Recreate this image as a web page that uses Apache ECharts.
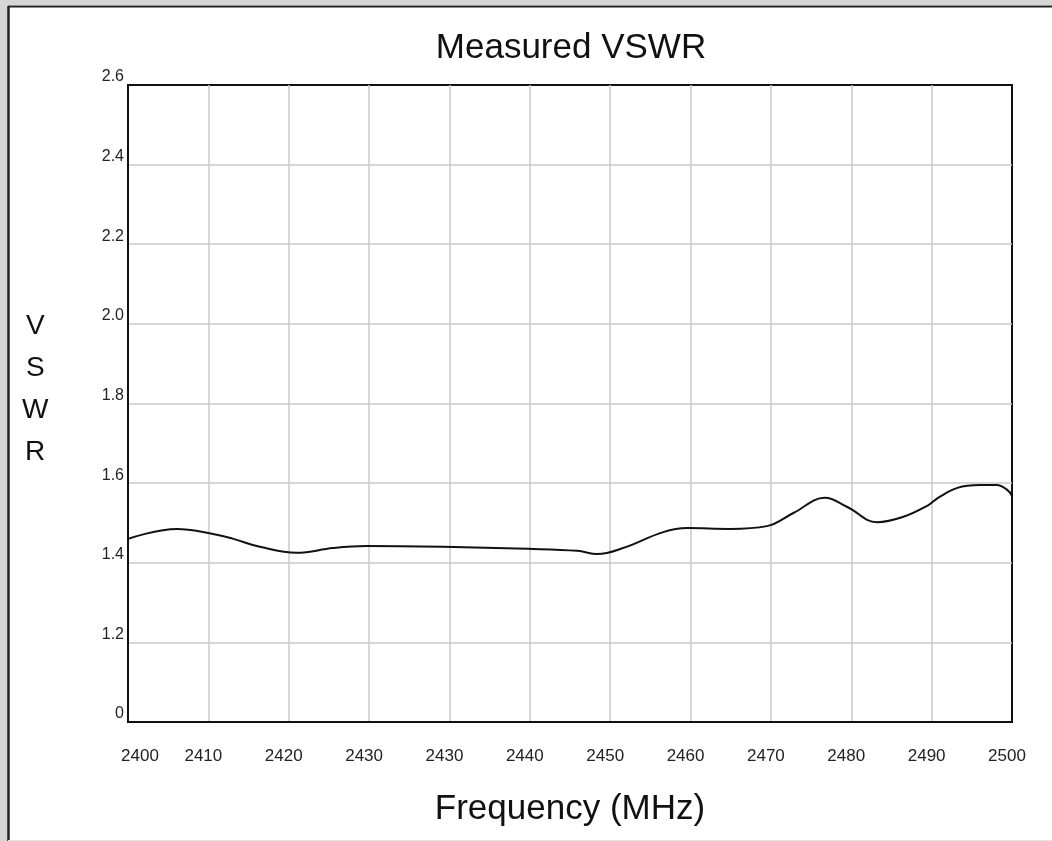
<!DOCTYPE html>
<html>
<head>
<meta charset="utf-8">
<style>
  html, body { margin: 0; padding: 0; background: #ffffff; }
  #chart { width: 1052px; height: 841px; }
</style>
<script src="https://cdn.jsdelivr.net/npm/echarts@6/dist/echarts.min.js"></script>
</head>
<body>
<div id="chart"></div>
<script>
// ---- data ----
const chartTitle = 'Measured VSWR';
const xAxisTitle = 'Frequency (MHz)';
const yAxisTitle = 'V\nS\nW\nR';
// tick labels as printed on the original (one per vertical grid line)
const xTickLabels = ['2400', '2410', '2420', '2430', '2430', '2440', '2450', '2460', '2470', '2480', '2490', '2500'];
const yTickValues = [1.0, 1.2, 1.4, 1.6, 1.8, 2.0, 2.2, 2.4, 2.6];
const yTickLabels = ['0', '1.2', '1.4', '1.6', '1.8', '2.0', '2.2', '2.4', '2.6'];
// curve: position along the x axis (in grid-line steps) and VSWR
const curveX = [0, 0.61, 1.0, 1.31, 1.64, 2.10, 2.55, 2.97, 3.92, 4.97, 5.59, 5.84, 6.16, 6.66, 6.96, 7.49, 7.95, 8.28, 8.67, 8.95, 9.32, 9.64, 9.96, 10.08, 10.32, 10.60, 10.81, 10.94, 11.0];
const curveY = [1.460, 1.485, 1.475, 1.460, 1.440, 1.425, 1.437, 1.442, 1.440, 1.435, 1.430, 1.422, 1.437, 1.477, 1.487, 1.485, 1.492, 1.525, 1.563, 1.540, 1.502, 1.515, 1.545, 1.563, 1.588, 1.595, 1.595, 1.583, 1.568];

const seriesData = curveX.map((x, i) => [x, curveY[i]]);

const chart = echarts.init(document.getElementById('chart'), null, { renderer: 'canvas' });
const font = 'Helvetica, "Liberation Sans", Arial, sans-serif';

chart.setOption({
  backgroundColor: '#ffffff',
  animation: false,
  title: {
    text: chartTitle,
    left: 566, top: 26, textAlign: 'center',
    textStyle: { fontFamily: font, fontSize: 35, fontWeight: 'normal', color: '#111' }
  },
  grid: {
    left: 128, top: 85, width: 884, height: 637,
    show: true, borderColor: '#111', borderWidth: 2, backgroundColor: '#ffffff'
  },
  xAxis: {
    type: 'value', min: 0, max: 11, interval: 1,
    name: xAxisTitle, nameLocation: 'middle', nameGap: 70,
    nameTextStyle: { fontFamily: font, fontSize: 35, color: '#111' },
    axisLine: { show: true, lineStyle: { color: '#111', width: 2 } },
    axisTick: { show: false },
    splitLine: { show: true, showMinLine: false, showMaxLine: false, lineStyle: { color: '#c8c8c8', width: 1.5 } },
    axisLabel: {
      margin: 26, fontFamily: font, fontSize: 17, color: '#222',
      padding: [0, 10, 0, 0],
      formatter: (v) => {
        const lab = xTickLabels[Math.round(v)];
        return Math.round(v) === 0 ? '{first|' + lab + '}' : lab;
      },
      rich: { first: { fontFamily: font, fontSize: 17, color: '#222', padding: [0, 0, 0, 34] } }
    }
  },
  yAxis: {
    type: 'value', min: 1.0, max: 2.6, interval: 0.2,
    axisLine: { show: true, lineStyle: { color: '#111', width: 2 } },
    axisTick: { show: false },
    splitLine: { show: true, showMinLine: false, showMaxLine: false, lineStyle: { color: '#c8c8c8', width: 1.5 } },
    axisLabel: {
      margin: 4, fontFamily: font, fontSize: 16, color: '#222',
      verticalAlign: 'bottom',
      formatter: (v) => {
        const i = yTickValues.findIndex(t => Math.abs(t - v) < 1e-6);
        return i >= 0 ? yTickLabels[i] : '';
      }
    }
  },
  graphic: [
    { type: 'rect', shape: { x: 0, y: 0, width: 8, height: 841 }, style: { fill: '#d6d6d6' }, silent: true },
    { type: 'rect', shape: { x: 0, y: 0, width: 1052, height: 5 }, style: { fill: '#d6d6d6' }, silent: true },
    { type: 'line', shape: { x1: 8, y1: 6.5, x2: 1052, y2: 6.5 }, style: { stroke: '#222', lineWidth: 2 }, silent: true },
    { type: 'line', shape: { x1: 8.5, y1: 6, x2: 8.5, y2: 841 }, style: { stroke: '#222', lineWidth: 2.5 }, silent: true },
    { type: 'line', shape: { x1: 8, y1: 840.5, x2: 1052, y2: 840.5 }, style: { stroke: '#e2e2e2', lineWidth: 1 }, silent: true },
    {
      type: 'text', left: 22, top: 305,
      style: { text: yAxisTitle, fontFamily: font, fontSize: 28, lineHeight: 42, fill: '#111', textAlign: 'center' }
    }
  ],
  series: [{
    type: 'line', data: seriesData, smooth: 0.4, showSymbol: false,
    lineStyle: { color: '#111', width: 2 }
  }]
});
</script>
</body>
</html>
